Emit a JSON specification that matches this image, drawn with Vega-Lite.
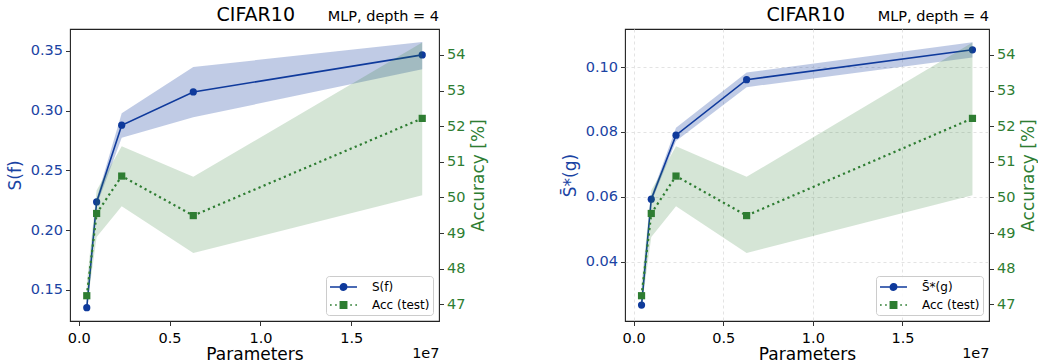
{
  "$schema": "https://vega.github.io/schema/vega-lite/v6.json",
  "padding": {"left": 5, "top": 5, "right": 0, "bottom": 0},
  "spacing": 72,
  "resolve": {"scale": {"shape": "independent", "fill": "independent", "stroke": "independent"}, "legend": {"shape": "independent", "fill": "independent", "stroke": "independent"}},
  "datasets": {
    "left": [
      {"params": 444170, "S": 0.135, "S_lo": 0.1338, "S_hi": 0.1362, "acc": 47.24, "acc_lo": 46.9, "acc_hi": 47.6},
      {"params": 986634, "S": 0.2235, "S_lo": 0.2205, "S_hi": 0.2265, "acc": 49.55, "acc_lo": 48.89, "acc_hi": 50.2},
      {"params": 2366474, "S": 0.2878, "S_lo": 0.2774, "S_hi": 0.2978, "acc": 50.6, "acc_lo": 49.75, "acc_hi": 51.44},
      {"params": 6304802, "S": 0.3157, "S_lo": 0.2944, "S_hi": 0.3366, "acc": 49.49, "acc_lo": 48.44, "acc_hi": 50.58},
      {"params": 18903050, "S": 0.3467, "S_lo": 0.3347, "S_hi": 0.3575, "acc": 52.22, "acc_lo": 50.06, "acc_hi": 54.35}
    ],
    "right": [
      {"params": 444170, "S": 0.0267, "S_lo": 0.0259, "S_hi": 0.0275, "acc": 47.24, "acc_lo": 46.9, "acc_hi": 47.6},
      {"params": 986634, "S": 0.0593, "S_lo": 0.0583, "S_hi": 0.0603, "acc": 49.55, "acc_lo": 48.89, "acc_hi": 50.2},
      {"params": 2366474, "S": 0.079, "S_lo": 0.0772, "S_hi": 0.0813, "acc": 50.6, "acc_lo": 49.75, "acc_hi": 51.44},
      {"params": 6304802, "S": 0.0961, "S_lo": 0.0938, "S_hi": 0.0983, "acc": 49.49, "acc_lo": 48.44, "acc_hi": 50.58},
      {"params": 18903050, "S": 0.1053, "S_lo": 0.1029, "S_hi": 0.1076, "acc": 52.22, "acc_lo": 50.06, "acc_hi": 54.35}
    ],
    "legendLeft": [{"series": "S(f)"}, {"series": "Acc (test)"}],
    "legendRight": [{"series": "S̄*(g)"}, {"series": "Acc (test)"}]
  },
  "hconcat": [
    {
      "width": 369,
      "height": 292,
      "title": {"text": "CIFAR10", "subtitle": "MLP, depth = 4", "fontSize": 19, "subtitleFontSize": 14.5, "subtitlePadding": -15, "encode": {"title": {"update": {"dx": {"value": -144}}}}},
      "data": {"name": "left"},
      "resolve": {"scale": {"y": "independent"}, "axis": {"x": "independent"}},
      "layer": [
        {
          "encoding": {
            "x": {"field": "params", "type": "quantitative", "scale": {"domain": [-479000, 19826000], "nice": false, "zero": false},
              "axis": {"orient": "bottom", "title": "Parameters", "values": [0, 5000000, 10000000, 15000000], "labelExpr": "format(datum.value / 10000000, '.1f')", "labelPadding": 5.5, "titlePadding": 2}}
          },
          "layer": [
            {"mark": {"type": "area", "color": "#173f9e", "opacity": 0.27},
              "encoding": {"y": {"field": "S_lo", "type": "quantitative", "scale": {"domain": [0.1238, 0.3684], "nice": false, "zero": false},
                "axis": {"orient": "left", "title": "S(f)", "values": [0.15, 0.2, 0.25, 0.3, 0.35], "format": ".2f", "labelColor": "#1a43a3", "titleColor": "#1a43a3", "titlePadding": 6}},
                "y2": {"field": "S_hi"}}},
            {"mark": {"type": "line", "color": "#0f3a9c", "strokeWidth": 1.6}, "encoding": {"y": {"field": "S", "type": "quantitative"}}},
            {"mark": {"type": "point", "shape": "circle", "filled": true, "color": "#0f3a9c", "opacity": 1, "size": 52}, "encoding": {"y": {"field": "S", "type": "quantitative"}}}
          ]
        },
        {
          "encoding": {
            "x": {"field": "params", "type": "quantitative",
              "axis": {"orient": "bottom", "title": "1e7\u00a0", "labels": false, "ticks": false, "domain": false, "grid": false, "titleAnchor": "end", "titleFontSize": 14.5, "titlePadding": 25}}
          },
          "layer": [
            {"mark": {"type": "area", "color": "#2e7d32", "opacity": 0.2},
              "encoding": {"y": {"field": "acc_lo", "type": "quantitative", "scale": {"domain": [46.53, 54.73], "nice": false, "zero": false},
                "axis": {"orient": "right", "title": "Accuracy [%]", "values": [47, 48, 49, 50, 51, 52, 53, 54], "format": "d", "labelColor": "#2e7d32", "titleColor": "#2e7d32", "titleAngle": 270, "titleBaseline": "top", "titlePadding": 6}},
                "y2": {"field": "acc_hi"}}},
            {"mark": {"type": "line", "color": "#2e7d32", "strokeWidth": 2.2, "strokeDash": [2.2, 3.3]}, "encoding": {"y": {"field": "acc", "type": "quantitative"}}},
            {"mark": {"type": "point", "shape": "square", "filled": true, "color": "#2e7d32", "opacity": 1, "size": 52}, "encoding": {"y": {"field": "acc", "type": "quantitative"}}}
          ]
        },
        {
          "data": {"name": "legendLeft"},
          "mark": {"type": "point", "opacity": 0, "size": 196},
          "encoding": {
            "shape": {"field": "series", "type": "nominal", "scale": {"domain": ["S(f)", "Acc (test)"], "range": ["M-1,0H2.857M1.38,0A0.45,0.45,0,1,1,0.48,0A0.45,0.45,0,1,1,1.38,0Z", "M-1,0H-0.76M-0.27,0H-0.03M1.89,0H2.13M2.62,0H2.857M0.48,-0.45H1.38V0.45H0.48Z"]}, "legend": {"title": null}},
            "fill": {"field": "series", "type": "nominal", "scale": {"domain": ["S(f)", "Acc (test)"], "range": ["#0f3a9c", "#2e7d32"]}, "legend": {"title": null}},
            "stroke": {"field": "series", "type": "nominal", "scale": {"domain": ["S(f)", "Acc (test)"], "range": ["#0f3a9c", "#2e7d32"]}, "legend": {"title": null}}
          }
        }
      ]
    },
    {
      "width": 364,
      "height": 292,
      "title": {"text": "CIFAR10", "subtitle": "MLP, depth = 4", "fontSize": 19, "subtitleFontSize": 14.5, "subtitlePadding": -15, "encode": {"title": {"update": {"dx": {"value": -144}}}}},
      "data": {"name": "right"},
      "resolve": {"scale": {"y": "independent"}, "axis": {"x": "independent"}},
      "layer": [
        {
          "encoding": {
            "x": {"field": "params", "type": "quantitative", "scale": {"domain": [-479000, 19826000], "nice": false, "zero": false},
              "axis": {"orient": "bottom", "title": "Parameters", "values": [0, 5000000, 10000000, 15000000], "labelExpr": "format(datum.value / 10000000, '.1f')", "labelPadding": 5.5, "titlePadding": 2, "grid": true, "gridDash": [3, 3], "gridColor": "#e3e3e3"}}
          },
          "layer": [
            {"mark": {"type": "area", "color": "#173f9e", "opacity": 0.27},
              "encoding": {"y": {"field": "S_lo", "type": "quantitative", "scale": {"domain": [0.0218, 0.1117], "nice": false, "zero": false},
                "axis": {"orient": "left", "title": "S̄*(g)", "values": [0.04, 0.06, 0.08, 0.1], "format": ".2f", "labelColor": "#1a43a3", "titleColor": "#1a43a3", "titlePadding": 6, "grid": true, "gridDash": [3, 3], "gridColor": "#e3e3e3"}},
                "y2": {"field": "S_hi"}}},
            {"mark": {"type": "line", "color": "#0f3a9c", "strokeWidth": 1.6}, "encoding": {"y": {"field": "S", "type": "quantitative"}}},
            {"mark": {"type": "point", "shape": "circle", "filled": true, "color": "#0f3a9c", "opacity": 1, "size": 52}, "encoding": {"y": {"field": "S", "type": "quantitative"}}}
          ]
        },
        {
          "encoding": {
            "x": {"field": "params", "type": "quantitative",
              "axis": {"orient": "bottom", "title": "1e7\u00a0", "labels": false, "ticks": false, "domain": false, "grid": false, "titleAnchor": "end", "titleFontSize": 14.5, "titlePadding": 25}}
          },
          "layer": [
            {"mark": {"type": "area", "color": "#2e7d32", "opacity": 0.2},
              "encoding": {"y": {"field": "acc_lo", "type": "quantitative", "scale": {"domain": [46.53, 54.73], "nice": false, "zero": false},
                "axis": {"orient": "right", "title": "Accuracy [%]", "values": [47, 48, 49, 50, 51, 52, 53, 54], "format": "d", "labelColor": "#2e7d32", "titleColor": "#2e7d32", "titleAngle": 270, "titleBaseline": "top", "titlePadding": 6}},
                "y2": {"field": "acc_hi"}}},
            {"mark": {"type": "line", "color": "#2e7d32", "strokeWidth": 2.2, "strokeDash": [2.2, 3.3]}, "encoding": {"y": {"field": "acc", "type": "quantitative"}}},
            {"mark": {"type": "point", "shape": "square", "filled": true, "color": "#2e7d32", "opacity": 1, "size": 52}, "encoding": {"y": {"field": "acc", "type": "quantitative"}}}
          ]
        },
        {
          "data": {"name": "legendRight"},
          "mark": {"type": "point", "opacity": 0, "size": 196},
          "encoding": {
            "shape": {"field": "series", "type": "nominal", "scale": {"domain": ["S̄*(g)", "Acc (test)"], "range": ["M-1,0H2.857M1.38,0A0.45,0.45,0,1,1,0.48,0A0.45,0.45,0,1,1,1.38,0Z", "M-1,0H-0.76M-0.27,0H-0.03M1.89,0H2.13M2.62,0H2.857M0.48,-0.45H1.38V0.45H0.48Z"]}, "legend": {"title": null}},
            "fill": {"field": "series", "type": "nominal", "scale": {"domain": ["S̄*(g)", "Acc (test)"], "range": ["#0f3a9c", "#2e7d32"]}, "legend": {"title": null}},
            "stroke": {"field": "series", "type": "nominal", "scale": {"domain": ["S̄*(g)", "Acc (test)"], "range": ["#0f3a9c", "#2e7d32"]}, "legend": {"title": null}}
          }
        }
      ]
    }
  ],
  "config": {
    "font": "DejaVu Sans",
    "view": {"stroke": "#222222", "strokeWidth": 1.1},
    "style": {"group-title": {"fontSize": 19}, "group-subtitle": {"fontSize": 14.5}},
    "axis": {"labelFont": "DejaVu Sans", "titleFont": "DejaVu Sans", "labelFontSize": 14.5, "titleFontSize": 17, "titleFontWeight": "normal", "labelColor": "#000000", "titleColor": "#000000", "tickColor": "#333333", "tickSize": 4.5, "tickWidth": 1, "labelPadding": 3, "domain": false, "grid": false, "labelFlush": false, "labelOverlap": false},
    "title": {"anchor": "end", "frame": "group", "font": "DejaVu Sans", "fontSize": 19, "fontWeight": "normal", "color": "#000000", "subtitleFont": "DejaVu Sans", "subtitleFontSize": 14.5, "subtitleColor": "#000000", "subtitlePadding": -15, "offset": 4},
    "legend": {"orient": "bottom-right", "offset": 6, "padding": 3, "fillColor": "rgba(255,255,255,0.85)", "strokeColor": "#cccccc", "cornerRadius": 3, "labelFont": "DejaVu Sans", "labelFontSize": 12, "labelColor": "#000000", "labelOffset": 27, "symbolOffset": 0, "rowPadding": 3, "symbolSize": 196, "symbolStrokeWidth": 1.6, "symbolOpacity": 1, "symbolFillColor": "#000000", "symbolStrokeColor": "#000000"}
  }
}
